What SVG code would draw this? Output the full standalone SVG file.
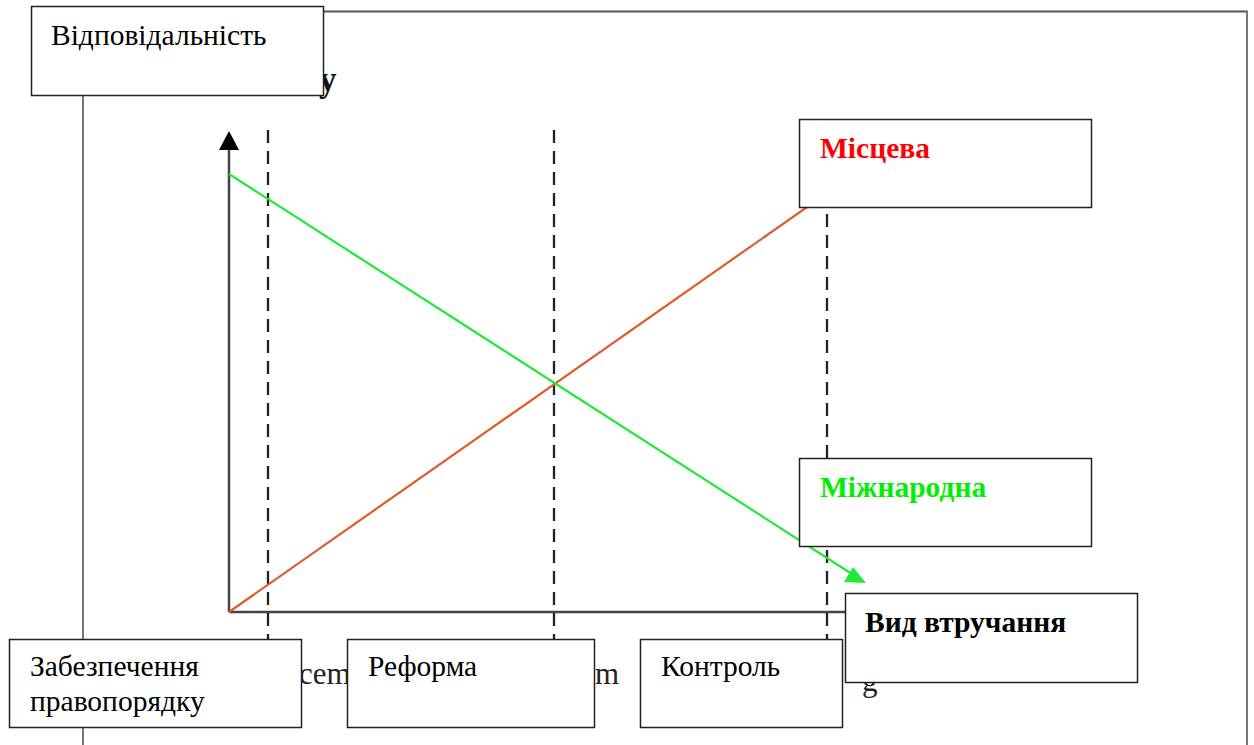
<svg xmlns="http://www.w3.org/2000/svg" width="1254" height="745" viewBox="0 0 1254 745">
  <defs>
    <style>
      .frame { stroke: #777; stroke-width: 2; fill: none; }
      .axis { stroke: #444; stroke-width: 2.5; fill: none; }
      .dash { stroke: #222; stroke-width: 2.3; stroke-dasharray: 13 8; fill: none; }
      .box { fill: #fff; stroke: #222; stroke-width: 1.5; }
      .lbl { font-family: "Liberation Serif", "Times New Roman", serif; font-size: 29.5px; fill: #000; }
      .b { font-weight: bold; }
      .bg { font-family: "Liberation Serif", "Times New Roman", serif; font-size: 31px; fill: #222; }
      .bgy { font-size: 35px; font-weight: bold; fill: #111; }
    </style>
  </defs>

  <!-- page frame -->
  <g id="frame">
    <line class="frame" x1="323" y1="11.5" x2="1248" y2="11.5" style="stroke:#555"/>
    <line class="frame" x1="1247" y1="11" x2="1247" y2="745"/>
    <line class="frame" x1="83" y1="95" x2="83" y2="745"/>
  </g>

  <!-- background fragments of underlying text -->
  <g id="fragments">
    <text class="bg bgy" x="319" y="91">y</text>
    <text class="bg" x="299" y="684">cem</text>
    <text class="bg" x="595" y="684">m</text>
    <text class="bg" x="862" y="691">g</text>
  </g>

  <g id="connectors">
    <!-- axes -->
    <line class="axis" x1="229" y1="612" x2="229" y2="148"/>
    <polygon points="229,131 219,150 239,150" fill="#000"/>
    <line class="axis" x1="229" y1="612" x2="846" y2="612"/>
    <!-- dashed separators -->
    <line class="dash" x1="268" y1="130" x2="268" y2="640"/>
    <line class="dash" x1="554" y1="130" x2="554" y2="640"/>
    <line class="dash" x1="827" y1="130" x2="827" y2="640"/>
    <!-- orange line -->
    <line x1="229" y1="612" x2="810" y2="205" stroke="#e05a2a" stroke-width="2.2"/>
    <!-- green line with arrow -->
    <line x1="229" y1="174" x2="852" y2="574" stroke="#22e83a" stroke-width="2.2"/>
    <polygon points="866,583 844,582 853,567" fill="#22e83a"/>
  </g>

  <g id="node-vidpovidalnist">
    <rect class="box" x="31.5" y="6.5" width="292" height="89"/>
    <text class="lbl" x="51" y="45">Відповідальність</text>
  </g>

  <g id="node-mistseva">
    <rect class="box" x="799.5" y="119.5" width="292" height="88"/>
    <text class="lbl b" x="820" y="158" style="fill:#ff0000">Місцева</text>
  </g>

  <g id="node-mizhnarodna">
    <rect class="box" x="799.5" y="458.5" width="292" height="88"/>
    <text class="lbl b" x="820" y="497" style="fill:#00ee00">Міжнародна</text>
  </g>

  <g id="node-vyd-vtruchannia">
    <rect class="box" x="845.5" y="593.5" width="292" height="89"/>
    <text class="lbl b" x="865" y="632">Вид втручання</text>
  </g>

  <g id="node-zabezpechennia">
    <rect class="box" x="9.5" y="639.5" width="292" height="88"/>
    <text class="lbl" x="30" y="676">Забезпечення</text>
    <text class="lbl" x="30" y="711">правопорядку</text>
  </g>

  <g id="node-reforma">
    <rect class="box" x="347.5" y="639.5" width="247" height="88"/>
    <text class="lbl" x="368" y="676">Реформа</text>
  </g>

  <g id="node-kontrol">
    <rect class="box" x="640.5" y="639.5" width="202" height="88"/>
    <text class="lbl" x="661" y="676">Контроль</text>
  </g>
</svg>
